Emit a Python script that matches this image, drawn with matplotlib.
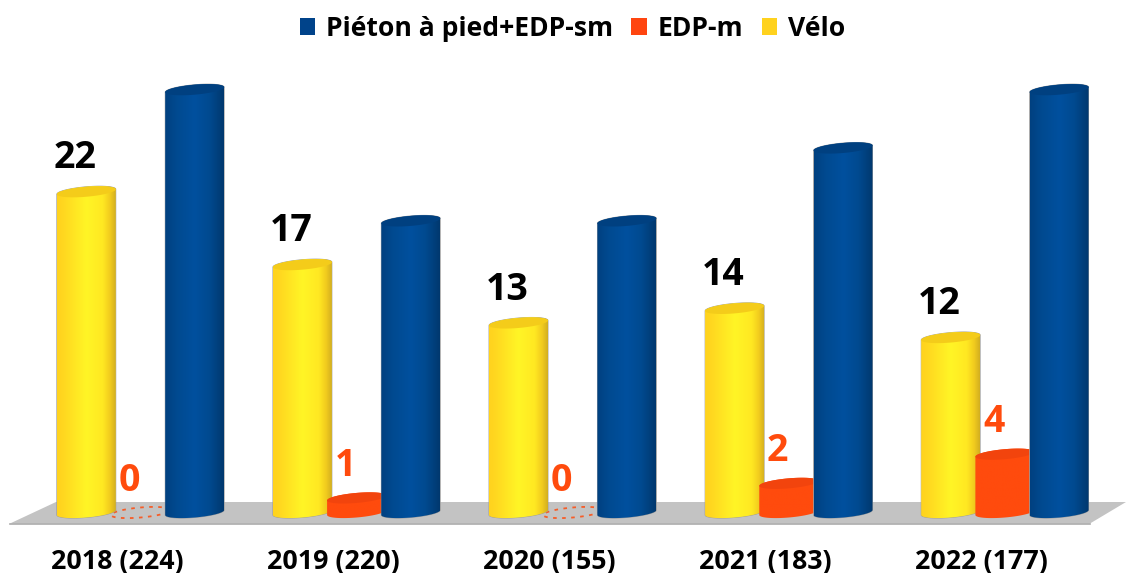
import numpy as np
import matplotlib
matplotlib.use("Agg")
import matplotlib.pyplot as plt
from matplotlib.colors import LinearSegmentedColormap
from matplotlib.patches import Patch, Polygon, PathPatch
from matplotlib.path import Path

categories = ["2018 (224)", "2019 (220)", "2020 (155)", "2021 (183)", "2022 (177)"]
velo = [22, 17, 13, 14, 12]
edp_m = [0, 1, 0, 2, 4]
pieton = [29, 20, 20, 25, 29]

FONT = "Open Sans"
W, H = 1126, 573
PX_X0, PX_DX = 140.5, 216.1     # pixel of group 0 centre, pixels per group
PX_Y0, PX_DY = 512.5, 14.58     # pixel of value 0, pixels per value unit
PX_AX_BOTTOM = 538

fig = plt.figure(figsize=(W / 100, H / 100), dpi=100)
ax = fig.add_axes([0, 1 - PX_AX_BOTTOM / H, 1, PX_AX_BOTTOM / H])
ax.set_xlim(-PX_X0 / PX_DX, (W - PX_X0) / PX_DX)
ax.set_ylim((PX_Y0 - PX_AX_BOTTOM) / PX_DY, PX_Y0 / PX_DY)
ax.patch.set_visible(False)
for s in ax.spines.values():
    s.set_visible(False)
ax.set_yticks([])
ax.set_xticks(np.arange(len(categories)) - 23.5 / PX_DX)
ax.set_xticklabels(categories, fontsize=19.3, fontweight="bold", family=FONT, color="black")
ax.tick_params(axis="x", length=0, pad=8)

a_x = 29.5 / PX_DX
b_y = 5.0 / PX_DY
tilt = 2.5 / PX_DY
OFFSET = 54.2 / PX_DX


def ellipse(cx, cy, t):
    return np.column_stack([cx + a_x * np.cos(t), cy + b_y * np.sin(t) + tilt * np.cos(t)])


floor = lambda px, py: ((px - PX_X0) / PX_DX, (PX_Y0 - py) / PX_DY)
ax.add_patch(Polygon([floor(10, 523.5), floor(1090, 523.5), floor(1126, 502), floor(56, 502)],
                     closed=True, fc="#C3C3C3", ec="none", zorder=1))
ax.plot(*zip(floor(10, 523.5), floor(1090, 523.5)), color="#ABABAB", lw=1.2, zorder=1.1)


def cmap(colors):
    return LinearSegmentedColormap.from_list("c", colors)


cm_yellow = cmap([(0, "#FFD21E"), (0.12, "#FFD820"), (0.5, "#FFF526"), (0.78, "#FFE822"),
                  (0.9, "#F2CC1E"), (1, "#D2AE20")])
cm_blue = cmap([(0, "#004080"), (0.2, "#004A90"), (0.5, "#00509E"), (0.75, "#004A90"),
                (1, "#00386E")])
cm_red = cmap([(0, "#FF4B0D"), (1, "#FF4B0D")])
grad = np.linspace(0, 1, 256).reshape(1, -1)


def cylinder(cx, v, cm, cap, z, edge=True):
    t_low = np.linspace(np.pi, 2 * np.pi, 60)
    t_up = np.linspace(0, np.pi, 60)
    body = np.vstack([ellipse(cx, 0, t_low), ellipse(cx, v, t_up)])
    clip = PathPatch(Path(np.vstack([body, body[:1]]), closed=True), transform=ax.transData,
                     fc="none", ec="#9A9A9A" if edge else "none", lw=0.6, zorder=z)
    ax.add_patch(clip)
    im = ax.imshow(grad, cmap=cm, aspect="auto", zorder=z,
                   extent=[cx - a_x, cx + a_x, -b_y * 2, v + b_y * 2], interpolation="bilinear")
    im.set_clip_path(clip)
    tt = np.linspace(0, 2 * np.pi, 120)
    ax.add_patch(Polygon(ellipse(cx, v, tt), closed=True, fc=cap, ec="none", zorder=z + 0.01))


for i in range(len(categories)):
    cylinder(i - OFFSET, velo[i], cm_yellow, "#F4CC1A", 3)
    ax.annotate(str(velo[i]), (i - OFFSET, velo[i]), xytext=(-8, 24), textcoords="offset points",
                ha="center", va="center", fontsize=27, fontweight="bold", family=FONT,
                color="black", zorder=6)
    if edp_m[i] > 0:
        cylinder(i, edp_m[i], cm_red, "#F2440D", 4, edge=False)
    else:
        tt = np.linspace(0, 2 * np.pi, 120)
        e = ellipse(i, 0, tt)
        ax.plot(e[:, 0], e[:, 1], color="#FF4B0D", lw=1.3, ls=(0, (2, 3)), alpha=0.85, zorder=2)
    ax.annotate(str(edp_m[i]), (i, edp_m[i]), xytext=(-8, 23), textcoords="offset points",
                ha="center", va="center", fontsize=27, fontweight="bold", family=FONT,
                color="#FF4B0D", zorder=6)
    cylinder(i + OFFSET, pieton[i], cm_blue, "#004080", 5)

handles = [Patch(fc="#00438A", label="Piéton à pied+EDP-sm"),
           Patch(fc="#FF4510", label="EDP-m"),
           Patch(fc="#FFD21E", label="Vélo")]
ax.legend(handles=handles, loc="center", bbox_to_anchor=(572.5 / W, 1 - 29 / PX_AX_BOTTOM),
          bbox_transform=ax.transAxes, ncol=3, frameon=False, handlelength=0.58, handleheight=0.62,
          handletextpad=0.42, columnspacing=0.68, borderpad=0,
          prop={"family": FONT, "weight": "bold", "size": 19.1})
fig.savefig("out.png", dpi=100)
